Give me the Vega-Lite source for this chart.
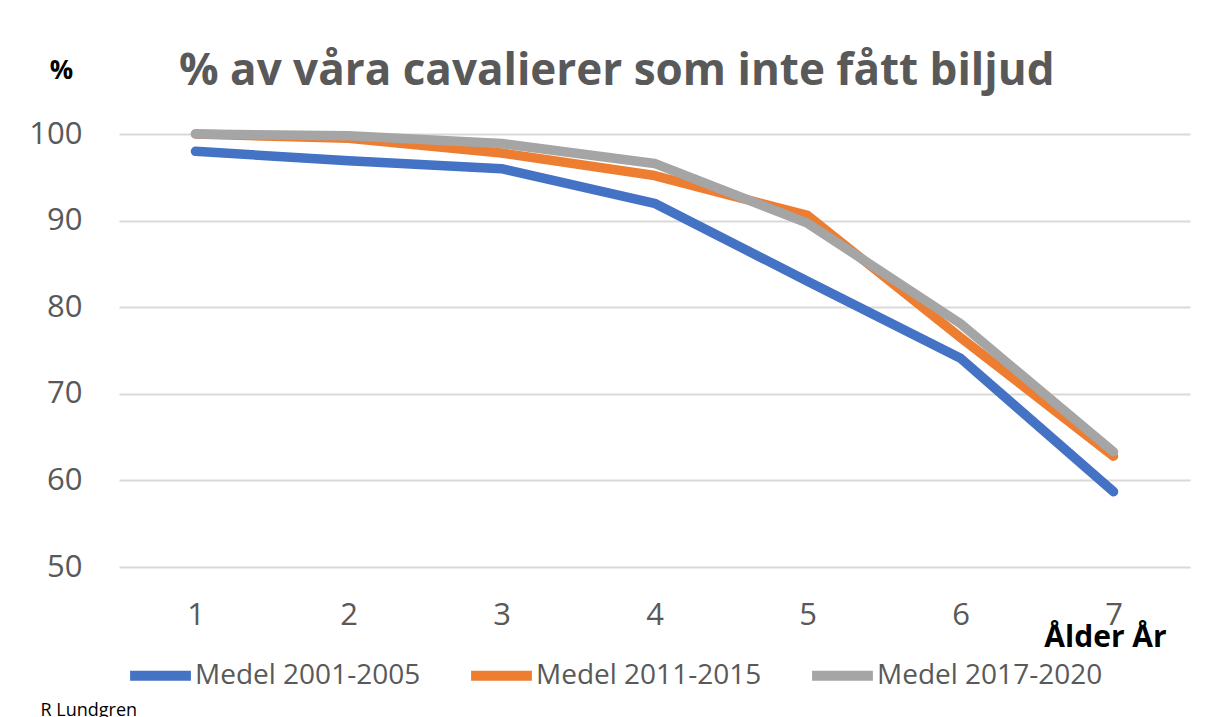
{
  "$schema": "https://vega.github.io/schema/vega-lite/v6.json",
  "width": 1071,
  "height": 433,
  "autosize": {"type": "none"},
  "padding": {"left": 119, "top": 134, "right": 25, "bottom": 150},
  "background": "white",
  "title": {
    "text": "% av våra cavalierer som inte fått biljud",
    "font": "Open Sans",
    "fontSize": 44,
    "fontWeight": "bold",
    "color": "#595959",
    "anchor": "start",
    "frame": "group",
    "dx": 60,
    "dy": 112,
    "offset": 40,
    "baseline": "alphabetic"
  },
  "data": {
    "values": [
      {"alder": "1", "serie": "Medel 2001-2005", "procent": 98.0},
      {"alder": "2", "serie": "Medel 2001-2005", "procent": 96.9},
      {"alder": "3", "serie": "Medel 2001-2005", "procent": 96.0},
      {"alder": "4", "serie": "Medel 2001-2005", "procent": 92.0},
      {"alder": "5", "serie": "Medel 2001-2005", "procent": 83.0},
      {"alder": "6", "serie": "Medel 2001-2005", "procent": 74.1},
      {"alder": "7", "serie": "Medel 2001-2005", "procent": 58.7},
      {"alder": "1", "serie": "Medel 2011-2015", "procent": 100.0},
      {"alder": "2", "serie": "Medel 2011-2015", "procent": 99.5},
      {"alder": "3", "serie": "Medel 2011-2015", "procent": 97.8},
      {"alder": "4", "serie": "Medel 2011-2015", "procent": 95.2},
      {"alder": "5", "serie": "Medel 2011-2015", "procent": 90.6},
      {"alder": "6", "serie": "Medel 2011-2015", "procent": 76.5},
      {"alder": "7", "serie": "Medel 2011-2015", "procent": 62.8},
      {"alder": "1", "serie": "Medel 2017-2020", "procent": 100.0},
      {"alder": "2", "serie": "Medel 2017-2020", "procent": 99.8},
      {"alder": "3", "serie": "Medel 2017-2020", "procent": 98.9},
      {"alder": "4", "serie": "Medel 2017-2020", "procent": 96.6},
      {"alder": "5", "serie": "Medel 2017-2020", "procent": 89.7},
      {"alder": "6", "serie": "Medel 2017-2020", "procent": 78.1},
      {"alder": "7", "serie": "Medel 2017-2020", "procent": 63.3}
    ]
  },
  "config": {
    "view": {"stroke": null},
    "font": "Open Sans"
  },
  "resolve": {"scale": {"y": "independent"}, "axis": {"y": "independent"}},
  "layer": [
    {
      "mark": {"type": "line", "strokeWidth": 9.5, "strokeCap": "round", "strokeJoin": "round"},
      "encoding": {
        "x": {
          "field": "alder",
          "type": "ordinal",
          "scale": {"type": "point", "padding": 0.5},
          "axis": {
            "title": "Ålder År",
            "titleFont": "Open Sans",
            "titleFontSize": 30,
            "titleFontWeight": "bold",
            "titleColor": "#000000",
            "titleX": 986,
            "titleY": 79,
            "titleAlign": "center",
            "titleBaseline": "alphabetic",
            "labelAngle": 0,
            "labelFont": "Open Sans",
            "labelFontSize": 31,
            "labelColor": "#595959",
            "labelPadding": 33,
            "ticks": false,
            "domain": false,
            "grid": false
          }
        },
        "y": {
          "field": "procent",
          "type": "quantitative",
          "scale": {"domain": [50, 100], "nice": false, "zero": false},
          "axis": {
            "title": "%",
            "titleFont": "Open Sans",
            "titleFontSize": 26,
            "titleFontWeight": "bold",
            "titleColor": "#000000",
            "titleAngle": 0,
            "titleX": -58,
            "titleY": -64,
            "titleAlign": "center",
            "titleBaseline": "middle",
            "values": [50, 60, 70, 80, 90, 100],
            "labelFont": "Open Sans",
            "labelFontSize": 31,
            "labelColor": "#595959",
            "labelPadding": 37,
            "ticks": false,
            "domain": false,
            "grid": true,
            "gridColor": "#d9d9d9",
            "gridWidth": 2
          }
        },
        "color": {
          "field": "serie",
          "type": "nominal",
          "scale": {
            "domain": ["Medel 2001-2005", "Medel 2011-2015", "Medel 2017-2020"],
            "range": ["#4472C4", "#ED7D31", "#A5A5A5"]
          },
          "legend": {
            "title": null,
            "orient": "none",
            "direction": "horizontal",
            "legendX": 6,
            "legendY": 506,
            "padding": 0,
            "symbolType": "stroke",
            "symbolSize": 3700,
            "symbolStrokeWidth": 10,
            "labelFont": "Open Sans",
            "labelFontSize": 28,
            "labelColor": "#595959",
            "labelOffset": -1,
            "labelLimit": 400,
            "columnPadding": 30
          }
        }
      }
    },
    {
      "mark": {"type": "line", "opacity": 0},
      "encoding": {
        "x": {"field": "alder", "type": "ordinal"},
        "y": {
          "field": "procent",
          "type": "quantitative",
          "scale": {"domain": [50, 100], "nice": false, "zero": false},
          "axis": {
            "orient": "right",
            "title": "R Lundgren",
            "titleFont": "Open Sans",
            "titleFontSize": 18,
            "titleFontWeight": "normal",
            "titleColor": "#000000",
            "titleAngle": 0,
            "titleX": -1150,
            "titleY": 581,
            "titleAlign": "left",
            "titleBaseline": "alphabetic",
            "labels": false,
            "ticks": false,
            "domain": false,
            "grid": false
          }
        },
        "detail": {"field": "serie", "type": "nominal"}
      }
    }
  ]
}
